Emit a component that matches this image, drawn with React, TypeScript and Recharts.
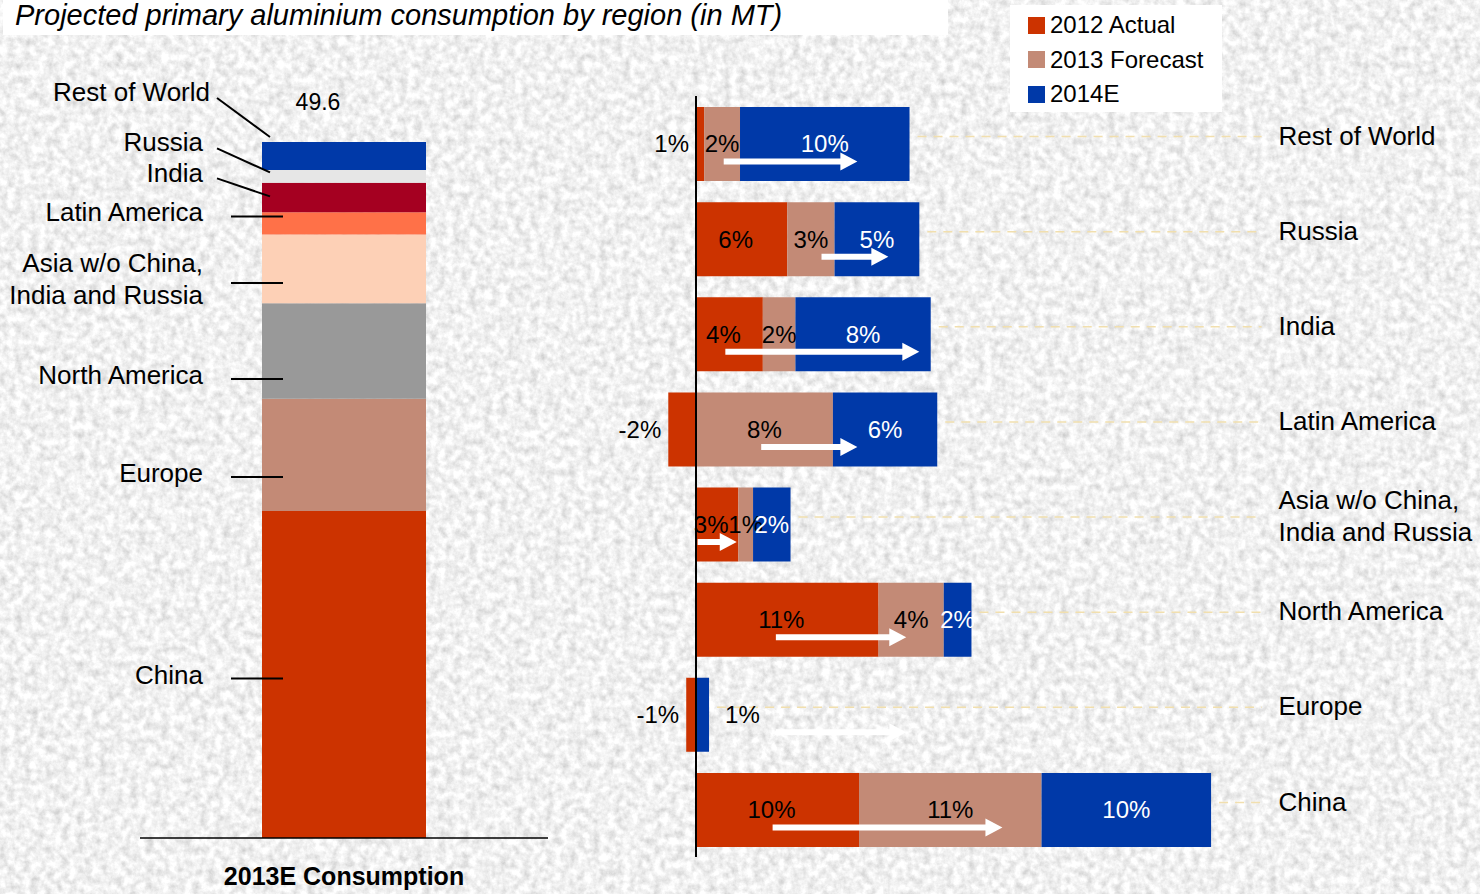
import React from "react";
import { BarChart, Bar, XAxis, YAxis, ReferenceLine, Legend, LabelList } from "recharts";

// regions, top to bottom as listed on the right-hand chart
const regions = [
  "Rest of World",
  "Russia",
  "India",
  "Latin America",
  "Asia w/o China, India and Russia",
  "North America",
  "Europe",
  "China",
];

// 2013E primary aluminium consumption (MT)
const consumption2013 = [2.0, 0.9, 2.1, 1.6, 4.9, 6.8, 8.0, 23.3];

// consumption growth by year (%)
const growth2012 = [0.5, 5.6, 4.1, -1.7, 2.6, 11.2, -0.6, 10.0];
const growth2013 = [2.2, 2.9, 2.0, 8.4, 0.9, 4.0, 0, 11.2];
const growth2014 = [10.4, 5.2, 8.3, 6.4, 2.3, 1.7, 0.8, 10.4];

// white trend arrows (from / to, in % on the growth axis)
const arrowFrom = [1.7, 7.7, 1.8, 4.0, 0.1, 4.9, 4.9, 4.7];
const arrowTo = [9.9, 11.8, 13.7, 9.9, 2.5, 12.9, 12.9, 18.8];

const seriesNames = ["2012 Actual", "2013 Forecast", "2014E"];
const seriesKeys = ["a2012", "f2013", "e2014"];
const seriesValues = [growth2012, growth2013, growth2014];

const seriesColors = ["#cc3300", "#c38a76", "#0039a8"];
const regionColors = ["#0039a8", "#e6e6e6", "#a50021", "#ff7148", "#fdd0b6", "#999999", "#c38a76", "#cc3300"];

const FONT = '"Liberation Sans", Arial, Helvetica, sans-serif';

// callout layout for the left bar (text shift from segment centre, px)
const callouts = [
  { dy: -64, endDy: -19, slant: true, dx: 7 },
  { dy: -34, endDy: -4, slant: true },
  { dy: -25, endDy: -1, slant: true },
  { dy: -11 },
  { dy: 10 },
  { dy: 24 },
  { dy: 18 },
  { dy: 0 },
];

const totalConsumption = consumption2013.reduce((s, v) => s + v, 0);

const consumptionRow: Record<string, any> = { label: "2013E Consumption" };
regions.forEach((_, i) => {
  consumptionRow[`r${i}`] = consumption2013[i];
});

const growthRows = regions.map((region, i) => ({
  region,
  a2012: growth2012[i],
  f2013: growth2013[i],
  e2014: growth2014[i],
}));

const positiveTotal = (i: number) =>
  seriesValues.reduce((s, vals) => s + Math.max(0, vals[i]), 0);

const wrap = (s: string) => {
  const c = s.indexOf(",");
  return s.length > 20 && c > 0 ? [s.slice(0, c + 1), s.slice(c + 2)] : [s];
};

const getBox = (p: any) => {
  const vb = p.viewBox && p.viewBox.width !== undefined ? p.viewBox : p;
  const x0 = Math.min(vb.x, vb.x + vb.width);
  const x1 = Math.max(vb.x, vb.x + vb.width);
  const y0 = Math.min(vb.y, vb.y + vb.height);
  const y1 = Math.max(vb.y, vb.y + vb.height);
  return { x0, x1, y0, y1 };
};

function Callout(props: any) {
  const { idx } = props;
  const { x0, x1, y0, y1 } = getBox(props);
  const c = callouts[idx];
  const yc = (y0 + y1) / 2;
  const ty = yc + c.dy;
  const tx = x0 - 59 + (c.dx || 0);
  const lines = wrap(regions[idx]);
  const lineY = ty + 4;
  return (
    <g>
      <text x={tx} y={ty} textAnchor="end" fontSize={26} fontFamily={FONT} fill="#000">
        {lines.map((l, k) => (
          <tspan key={k} x={tx} y={ty + (k - (lines.length - 1) / 2) * 32} dy="0.35em">
            {l}
          </tspan>
        ))}
      </text>
      {c.slant ? (
        <line x1={x0 - 45} y1={ty + 6} x2={x0 + 8} y2={yc + c.endDy} stroke="#000" strokeWidth={2} />
      ) : (
        <line x1={x0 - 31} y1={lineY} x2={x0 + 21} y2={lineY} stroke="#000" strokeWidth={2} />
      )}
      {idx === 0 && (
        <text x={(x0 + x1) / 2 - 26} y={y0 - 40} dy="0.35em" textAnchor="middle" fontSize={23} fontFamily={FONT} fill="#000">
          {totalConsumption.toFixed(1)}
        </text>
      )}
    </g>
  );
}

const pctLabel = (k: number) => (props: any) => {
  const v = Number(props.value);
  if (!v) return null;
  const { x0, x1, y0, y1 } = getBox(props);
  const yc = (y0 + y1) / 2;
  const txt = `${Math.round(v)}%`;
  let x = (x0 + x1) / 2 + (k === 0 ? -6 : 0);
  let anchor = "middle";
  let fill = k === 2 ? "#fff" : "#000";
  if (k === 0 && v < 1) {
    x = x0 - 7;
    anchor = "end";
  } else if (k === 2 && x1 - x0 < 20) {
    x = x1 + 16;
    anchor = "start";
    fill = "#000";
  }
  return (
    <text x={x} y={yc} dy="0.35em" textAnchor={anchor} fontSize={24} fontFamily={FONT} fill={fill}>
      {txt}
    </text>
  );
};

function RegionTick(props: any) {
  const { x, y, payload } = props;
  const lines = wrap(payload.value);
  const yc = y - 8;
  return (
    <text x={x} y={yc} textAnchor="start" fontSize={26} fontFamily={FONT} fill="#000">
      {lines.map((l, k) => (
        <tspan key={k} x={x} y={yc + (k - (lines.length - 1) / 2) * 32} dy="0.35em">
          {l}
        </tspan>
      ))}
    </text>
  );
}

function CategoryTick(props: any) {
  const { x, y, payload } = props;
  return (
    <text x={x} y={y + 38} dy="0.35em" textAnchor="middle" fontSize={25} fontWeight="bold" fontFamily={FONT} fill="#000">
      {payload.value}
    </text>
  );
}

const Arrow = (p: any) => {
  const { x1, x2, y1 } = p;
  const y = y1 + 18;
  const h = 17;
  return (
    <path
      d={`M${x1},${y - 3} L${x2 - h},${y - 3} L${x2 - h},${y - 9} L${x2},${y} L${x2 - h},${y + 9} L${x2 - h},${y + 3} L${x1},${y + 3} Z`}
      fill="#fff"
    />
  );
};

const Leader = (p: any) => {
  const { x1, x2, y1 } = p;
  return <line x1={x1 + 8} x2={x2} y1={y1 - 7} y2={y1 - 7} stroke="#f1dfae" strokeWidth={1.5} strokeDasharray="9 7" />;
};

function LegendBox(props: any) {
  const items = props.payload || [];
  return (
    <div style={{ background: "#fff", width: 212, height: 107, boxSizing: "border-box", paddingTop: 3, paddingLeft: 18 }}>
      {items.map((it: any, k: number) => (
        <div key={k} style={{ display: "flex", alignItems: "center", height: 34.5, fontFamily: FONT, fontSize: 24, color: "#000" }}>
          <span style={{ display: "inline-block", width: 17, height: 17, background: it.color, marginRight: 5 }} />
          {it.value}
        </div>
      ))}
    </div>
  );
}

const stackOrder = [7, 6, 5, 4, 3, 2, 1, 0];

export default function App() {
  return (
    <div style={{ position: "absolute", left: 0, top: 0, width: 1480, height: 894, overflow: "hidden", fontFamily: FONT }}>
      <svg width={1480} height={894} style={{ position: "absolute", left: 0, top: 0 }}>
        <filter id="granite">
          <feTurbulence type="fractalNoise" baseFrequency="0.13" numOctaves={4} seed={3} />
          <feColorMatrix type="matrix" values="0.6 0 0 0 0.58  0.6 0 0 0 0.58  0.6 0 0 0 0.58  0 0 0 0 1" />
        </filter>
        <rect width={1480} height={894} fill="#e0e0e0" />
        <rect width={1480} height={894} filter="url(#granite)" />
      </svg>

      <div
        style={{
          position: "absolute",
          left: 3,
          top: 0,
          width: 945,
          height: 35,
          background: "#fff",
          boxSizing: "border-box",
          paddingLeft: 12,
          fontStyle: "italic",
          fontSize: 29,
          lineHeight: "31px",
          color: "#000",
        }}
      >
        Projected primary aluminium consumption by region (in MT)
      </div>

      <div style={{ position: "absolute", left: 0, top: 0 }}>
        <BarChart width={560} height={894} data={[consumptionRow]} margin={{ top: 142, right: 12, bottom: 0, left: 140 }} barSize={164}>
          <XAxis
            dataKey="label"
            height={56}
            axisLine={{ stroke: "#000", strokeWidth: 1.5 }}
            tickLine={false}
            tickSize={0}
            tickMargin={0}
            tick={<CategoryTick />}
          />
          <YAxis hide domain={[0, totalConsumption]} />
          {stackOrder.map((i) => (
            <Bar
              key={i}
              dataKey={`r${i}`}
              name={regions[i]}
              stackId="c"
              fill={regionColors[i]}
              isAnimationActive={false}
              label={(p: any) => <Callout {...p} idx={i} />}
            />
          ))}
        </BarChart>
      </div>

      <div style={{ position: "absolute", left: 600, top: 0 }}>
        <BarChart
          layout="vertical"
          width={880}
          height={894}
          data={growthRows}
          stackOffset="sign"
          margin={{ top: 96, right: 0, bottom: 37, left: 63.4 }}
          barSize={74}
        >
          <XAxis type="number" domain={[-2, 35]} hide />
          <YAxis
            type="category"
            dataKey="region"
            orientation="right"
            width={213.5}
            axisLine={false}
            tickLine={false}
            tickSize={0}
            tickMargin={12}
            interval={0}
            tick={<RegionTick />}
          />
          {regions.map((r, i) => (
            <ReferenceLine
              key={`lead-${i}`}
              segment={[{ x: positiveTotal(i), y: r }, { x: 34.7, y: r }]}
              ifOverflow="visible"
              shape={Leader}
            />
          ))}
          {seriesKeys.map((k, s) => (
            <Bar
              key={k}
              dataKey={k}
              name={seriesNames[s]}
              stackId="g"
              fill={seriesColors[s]}
              isAnimationActive={false}
            >
              <LabelList dataKey={k} content={pctLabel(s)} />
            </Bar>
          ))}
          <ReferenceLine x={0} stroke="#000" strokeWidth={2} ifOverflow="visible" />
          {regions.map((r, i) => (
            <ReferenceLine
              key={`arrow-${i}`}
              segment={[{ x: arrowFrom[i], y: r }, { x: arrowTo[i], y: r }]}
              ifOverflow="visible"
              shape={Arrow}
            />
          ))}
          <Legend
            layout="vertical"
            align="center"
            verticalAlign="middle"
            wrapperStyle={{ position: "absolute", left: 410, top: 5, width: 212, height: 107 }}
            content={<LegendBox />}
          />
        </BarChart>
      </div>
    </div>
  );
}
